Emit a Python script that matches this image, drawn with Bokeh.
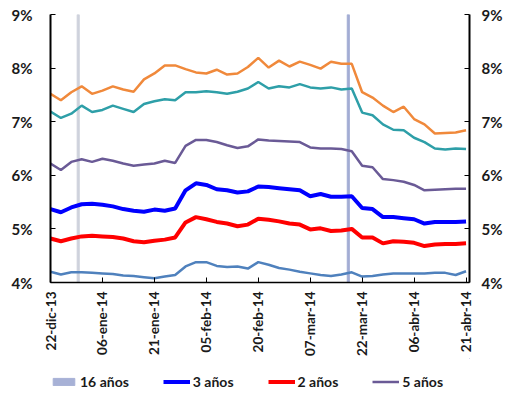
import numpy as np
import pandas as pd
from bokeh.plotting import figure
from bokeh.layouts import column
from bokeh.models import (Range1d, LinearAxis, FixedTicker, PrintfTickFormatter,
                          Legend, LegendItem, ColumnDataSource)
from bokeh.embed import file_html
from bokeh.resources import INLINE

# ---------------- data ----------------
dates = pd.date_range("2013-12-22", periods=41, freq="3D")

y_orange = [7.52, 7.40, 7.55, 7.66, 7.52, 7.58, 7.66, 7.60, 7.56, 7.79,
            7.90, 8.05, 8.05, 7.98, 7.92, 7.90, 7.97, 7.88, 7.90, 8.02,
            8.19, 8.01, 8.14, 8.03, 8.12, 8.06, 7.99, 8.12, 8.08, 8.08,
            7.55, 7.45, 7.30, 7.18, 7.28, 7.05, 6.95, 6.78, 6.79, 6.80, 6.84]
y_teal = [7.19, 7.07, 7.15, 7.30, 7.18, 7.22, 7.30, 7.24, 7.18, 7.33,
          7.38, 7.42, 7.40, 7.55, 7.55, 7.57, 7.55, 7.52, 7.56, 7.62,
          7.74, 7.62, 7.66, 7.64, 7.70, 7.64, 7.62, 7.64, 7.60, 7.62,
          7.17, 7.12, 6.95, 6.85, 6.84, 6.70, 6.62, 6.50, 6.48, 6.50, 6.49]
y_5 = [6.22, 6.10, 6.25, 6.30, 6.25, 6.31, 6.27, 6.22, 6.18, 6.20,
       6.22, 6.27, 6.23, 6.55, 6.66, 6.66, 6.62, 6.56, 6.51, 6.54,
       6.67, 6.65, 6.64, 6.63, 6.62, 6.52, 6.50, 6.50, 6.49, 6.45,
       6.18, 6.15, 5.93, 5.91, 5.88, 5.82, 5.72, 5.73, 5.74, 5.75, 5.75]
y_3 = [5.37, 5.31, 5.40, 5.46, 5.47, 5.45, 5.42, 5.37, 5.34, 5.32,
       5.36, 5.34, 5.38, 5.72, 5.85, 5.82, 5.74, 5.72, 5.68, 5.70,
       5.79, 5.78, 5.76, 5.74, 5.72, 5.61, 5.65, 5.60, 5.60, 5.61,
       5.39, 5.37, 5.22, 5.22, 5.20, 5.18, 5.10, 5.13, 5.13, 5.13, 5.14]
y_2 = [4.82, 4.77, 4.82, 4.86, 4.87, 4.86, 4.85, 4.82, 4.77, 4.75,
       4.78, 4.80, 4.84, 5.12, 5.22, 5.18, 5.13, 5.10, 5.05, 5.08,
       5.19, 5.17, 5.14, 5.10, 5.08, 4.99, 5.01, 4.96, 4.97, 5.00,
       4.84, 4.84, 4.73, 4.77, 4.76, 4.74, 4.68, 4.71, 4.72, 4.72, 4.73]
y_steel = [4.20, 4.15, 4.19, 4.19, 4.18, 4.17, 4.16, 4.13, 4.12, 4.10,
           4.08, 4.11, 4.14, 4.30, 4.38, 4.38, 4.31, 4.29, 4.30, 4.26,
           4.38, 4.33, 4.27, 4.24, 4.20, 4.17, 4.14, 4.12, 4.15, 4.19,
           4.11, 4.12, 4.15, 4.17, 4.17, 4.17, 4.17, 4.18, 4.18, 4.14, 4.21]

bar16_dates = pd.to_datetime(["2013-12-30", "2014-03-18"])
bar16_vals = [9.0, 9.0]
bar16_colors = ["#cfd2dc", "#a3add4"]

tick_dates = pd.to_datetime(["2013-12-22", "2014-01-06", "2014-01-21", "2014-02-05",
                             "2014-02-20", "2014-03-07", "2014-03-22", "2014-04-06",
                             "2014-04-21"])
tick_labels = ["22-dic-13", "06-ene-14", "21-ene-14", "05-feb-14", "20-feb-14",
               "07-mar-14", "22-mar-14", "06-abr-14", "21-abr-14"]

legend_labels = ["16 años", "3 años", "2 años", "5 años"]
legend_colors = ["#a7b1d6", "#0000ff", "#ff0000", "#6a5a96"]

# ---------------- figure ----------------
FONT = "Lato"
x_start = pd.Timestamp("2013-12-22")
x_end = pd.Timestamp("2014-04-22")

p = figure(width=505, height=358, x_axis_type="datetime",
           x_range=Range1d(x_start, x_end), y_range=Range1d(4, 9),
           output_backend="svg", toolbar_location=None,
           min_border_left=50, min_border_right=35, min_border_top=14,
           min_border_bottom=71)
p.outline_line_color = None
p.xgrid.visible = False
p.ygrid.visible = False
p.background_fill_color = "white"

# 16 años bars
src_bar = ColumnDataSource(dict(x=bar16_dates, top=bar16_vals, color=bar16_colors))
p.vbar(x="x", top="top", bottom=4, width=0.6 * 86400000, color="color",
       source=src_bar)

p.line(dates, y_steel, line_color="#4f81bd", line_width=2.5)
p.line(dates, y_5, line_color="#6a5a96", line_width=2.5)
p.line(dates, y_teal, line_color="#2e9fa8", line_width=2.5)
p.line(dates, y_orange, line_color="#f0893b", line_width=2.5)
p.line(dates, y_2, line_color="#ff0000", line_width=4)
p.line(dates, y_3, line_color="#0000ff", line_width=4)

# axes
tick_ms = [t.value / 1e6 for t in tick_dates]
xa = p.xaxis[0]
xa.ticker = FixedTicker(ticks=tick_ms)
xa.major_label_overrides = {float(t): lab for t, lab in zip(tick_ms, tick_labels)}
xa.major_label_orientation = np.pi / 2
xa.major_tick_in = 5
xa.major_tick_out = 0
xa.minor_tick_in = 0
xa.minor_tick_out = 0
xa.axis_line_width = 1.5
xa.axis_line_color = "black"
xa.major_tick_line_color = "black"
xa.major_label_text_font = FONT
xa.major_label_text_font_style = "bold"
xa.major_label_text_font_size = "13.5px"
xa.major_label_text_color = "#1a1a1a"
xa.major_label_standoff = 9


def style_y(ax, standoff):
    ax.ticker = FixedTicker(ticks=[4, 5, 6, 7, 8, 9])
    ax.formatter = PrintfTickFormatter(format="%d%%")
    ax.major_tick_in = 5
    ax.major_tick_out = 0
    ax.minor_tick_in = 0
    ax.minor_tick_out = 0
    ax.axis_line_width = 2
    ax.axis_line_color = "black"
    ax.major_tick_line_color = "black"
    ax.major_label_text_font = FONT
    ax.major_label_text_font_style = "bold"
    ax.major_label_text_font_size = "15px"
    ax.major_label_text_color = "#1a1a1a"
    ax.major_label_standoff = standoff


style_y(p.yaxis[0], 18)

p.extra_y_ranges = {"right": Range1d(4, 9)}
ra = LinearAxis(y_range_name="right")
style_y(ra, 12)
p.add_layout(ra, "right")

# ---------------- legend strip (proxy renderers lie outside its 0..1 ranges) ----------------
pl = figure(width=505, height=32, x_range=Range1d(0, 1), y_range=Range1d(0, 1),
            output_backend="svg", toolbar_location=None,
            min_border_left=0, min_border_right=0, min_border_top=0,
            min_border_bottom=0, x_axis_location=None, y_axis_location=None)
pl.outline_line_color = None
pl.xgrid.visible = False
pl.ygrid.visible = False

idx = list(range(len(y_3)))
items = []
r_bar = pl.vbar(x=[2, 3], top=bar16_vals, bottom=4, width=0.5, color=legend_colors[0])
items.append(LegendItem(label=legend_labels[0], renderers=[r_bar]))
for lab, col, ys, lw in zip(legend_labels[1:], legend_colors[1:], [y_3, y_2, y_5],
                            [4, 4, 2.5]):
    r = pl.line(x=idx, y=ys, line_color=col, line_width=lw)
    items.append(LegendItem(label=lab, renderers=[r]))

legend = Legend(items=items, orientation="horizontal", location=(0, 0),
                glyph_width=27, glyph_height=9, label_height=17,
                label_standoff=3, spacing=34,
                padding=0, margin=0, border_line_alpha=0, background_fill_alpha=0,
                label_text_font=FONT, label_text_font_style="bold",
                label_text_font_size="14px", label_text_color="#1a1a1a")
pl.add_layout(legend)

layout = column(p, pl, spacing=0)
open("out.html", "w").write(file_html(layout, INLINE))
